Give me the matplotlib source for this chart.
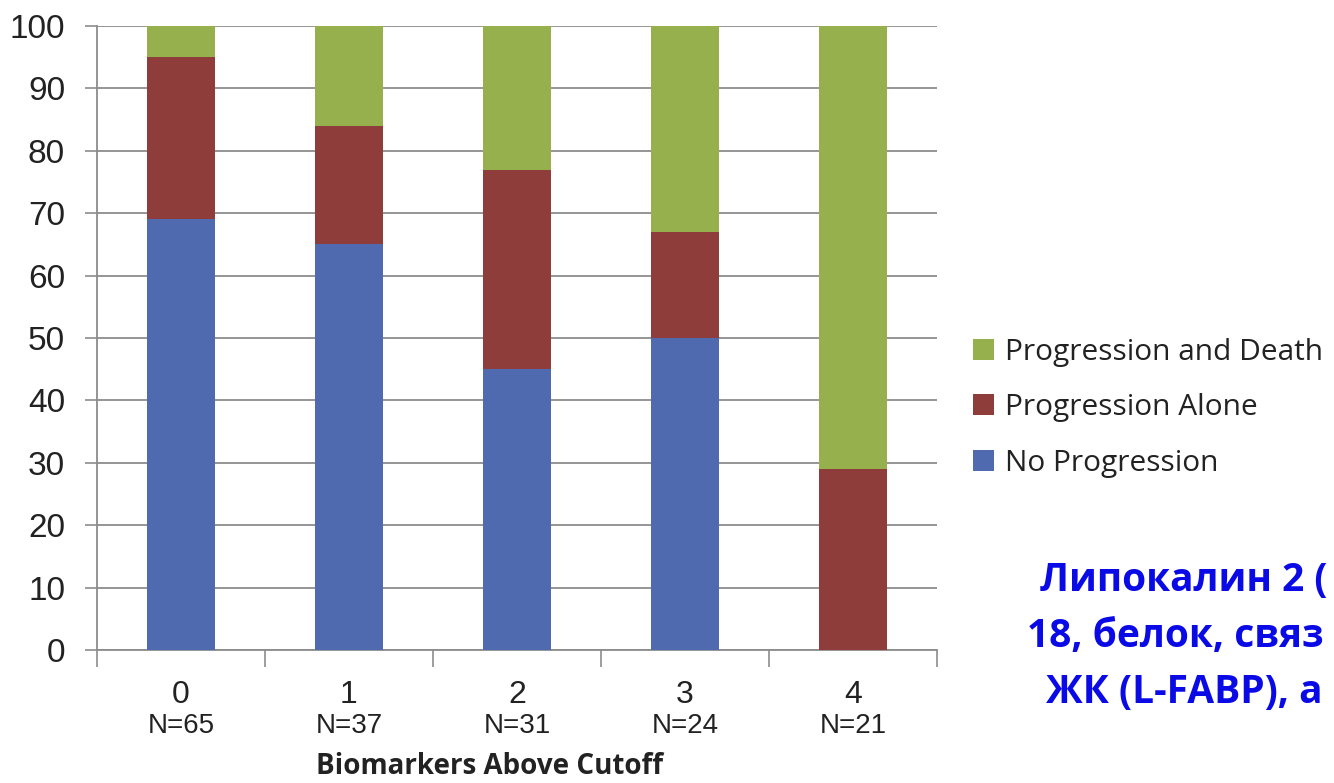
import matplotlib
matplotlib.use("Agg")
import matplotlib.pyplot as plt
from matplotlib.patches import Patch
import numpy as np

# Data: percentage of patients per outcome, by number of biomarkers above cutoff
categories = ["0", "1", "2", "3", "4"]
group_sizes = ["N=65", "N=37", "N=31", "N=24", "N=21"]
no_progression = [69, 65, 45, 50, 0]
progression_alone = [26, 19, 32, 17, 29]
progression_death = [5, 16, 23, 33, 71]

series_labels = ["No Progression", "Progression Alone", "Progression and Death"]
colors = ["#506AAF", "#8E3D3A", "#96B04D"]

fig = plt.figure(figsize=(13.34, 7.83), dpi=100)
ax = fig.add_axes([97 / 1334, 1 - 650 / 783, 840 / 1334, 624 / 783])

x = np.arange(len(categories))
width = 0.4
bottom = np.zeros(len(categories))
for vals, col in zip([no_progression, progression_alone, progression_death], colors):
    ax.bar(x, vals, width, bottom=bottom, color=col, zorder=3, linewidth=0)
    bottom += np.array(vals)

ax.set_xlim(-0.5, len(categories) - 0.5)
ax.set_ylim(0, 100)
ax.set_yticks(np.arange(0, 101, 10))
ax.yaxis.grid(True, color="#8c8c8c", linewidth=1.3, zorder=0)
ax.tick_params(axis="y", labelsize=24, length=9, width=1.2, color="#8c8c8c",
               pad=14, labelcolor="#222222")
for lab in ax.get_yticklabels():
    lab.set_family(["Liberation Sans", "DejaVu Sans"])

# Category boundary ticks on the x axis
ax.set_xticks(np.arange(-0.5, len(categories), 1.0))
ax.set_xticklabels([])
ax.tick_params(axis="x", length=12, width=1.2, color="#8c8c8c")

for side in ["top", "right"]:
    ax.spines[side].set_visible(False)
for side in ["left", "bottom"]:
    ax.spines[side].set_color("#8c8c8c")
    ax.spines[side].set_linewidth(1.3)

trans = ax.get_xaxis_transform()
for xi, cat, n in zip(x, categories, group_sizes):
    ax.text(xi, -0.072, cat, transform=trans, ha="center", va="center",
            fontsize=23, color="#222222", family=["Liberation Sans", "DejaVu Sans"])
    ax.text(xi, -0.122, n, transform=trans, ha="center", va="center",
            fontsize=20, color="#222222", family=["Liberation Sans Narrow", "Liberation Sans"])

fig.text(490 / 1334, 1 - 766 / 783, "Biomarkers Above Cutoff", ha="center", va="center",
         fontsize=20, fontweight="bold", color="#222222", family=["Open Sans", "DejaVu Sans"])

handles = [Patch(facecolor=c, edgecolor="none") for c in colors]
leg = fig.legend(handles[::-1], series_labels[::-1], loc="upper left",
                 bbox_to_anchor=(973 / 1334, 1 - 338 / 783), frameon=False,
                 borderpad=0, borderaxespad=0,
                 handlelength=0.7, handleheight=0.7, handletextpad=0.38,
                 labelspacing=0.88, prop={"family": ["Open Sans", "DejaVu Sans"], "size": 21.5})
for t in leg.get_texts():
    t.set_color("#222222")

blue_lines = [("Липокалин 2 (", 1040, 580), ("18, белок, связ", 1027, 637), ("ЖК (L-FABP), а", 1046, 693)]
for txt, px, py in blue_lines:
    fig.text(px / 1334, 1 - py / 783, txt, ha="left", va="center", fontsize=28,
             fontweight="bold", color="#0A0AE6", family=["Open Sans", "DejaVu Sans"])

fig.savefig("out.png", dpi=100)
